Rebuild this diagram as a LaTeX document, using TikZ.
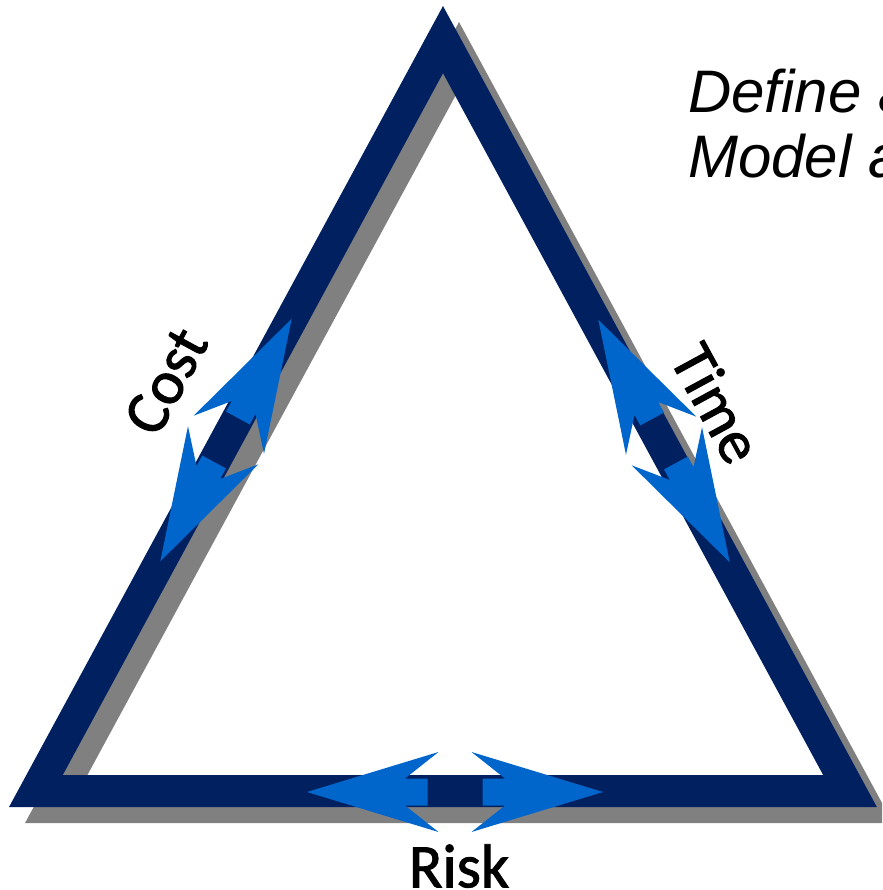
\documentclass[tikz,border=0pt]{standalone}
\usepackage{fontspec}
\setmainfont{Carlito}[FakeBold=1.5]
\newfontfamily\labelfont[FakeBold=1.5]{Carlito}
\newfontfamily\notefont{Liberation Sans}
\usetikzlibrary{positioning}

\definecolor{triblue}{HTML}{002060}
\definecolor{arrowblue}{HTML}{0066CC}
\definecolor{shadowgray}{HTML}{808080}

\begin{document}
\begin{tikzpicture}[x=1pt, y=-1pt,
  band/.style={line width=32pt, line join=miter},
  sidelabel/.style={font=\labelfont\fontsize{62}{62}\selectfont, inner sep=0pt},
  note/.style={font=\notefont\itshape\fontsize{60}{65}\selectfont, inner sep=0pt, anchor=base west}]

\useasboundingbox (0,0) rectangle (882,890);
\clip (0,0) rectangle (882,890);

% Corners of the triangle (middle of the band)
\coordinate (top) at (443,39.6);
\coordinate (left) at (35.9,791);
\coordinate (right) at (850,791);

% Shadow, then the band itself
\draw[band, shadowgray] ([shift={(16,16)}]top) -- ([shift={(16,16)}]left)
  -- ([shift={(16,16)}]right) -- cycle;
\draw[band, triblue] (top) -- (left) -- (right) -- cycle;

% Trade-off arrows on the three sides
\foreach \cx/\cy/\ang/\tip/\barb/\notch/\sh in {226/440/61.56/138/6/37/25,
    664/441/-61.56/138/6/37/25, 455/792/0/148/16.5/50/27.5} {
  \foreach \s in {1,-1} {
    \fill[arrowblue, shift={(\cx,\cy)}, rotate=\ang, xscale=\s]
      (\sh,-13.5) -- (\notch,-13.5) -- (\barb,-40) -- (\tip,0)
      -- (\barb,40) -- (\notch,13.5) -- (\sh,13.5) -- cycle;
  }
}

% Labels
\node[sidelabel, rotate=61.5] (cost) at (166,381) {Cost};
\node[sidelabel, rotate=-61.5] (time) at (717,403) {Time};
\node[sidelabel] (risk) at (459,866) {Risk};

\node[note] (define) at (688,113) {Define and};
\node[note] (model) at (688,178) {Model and};

\end{tikzpicture}
\end{document}
